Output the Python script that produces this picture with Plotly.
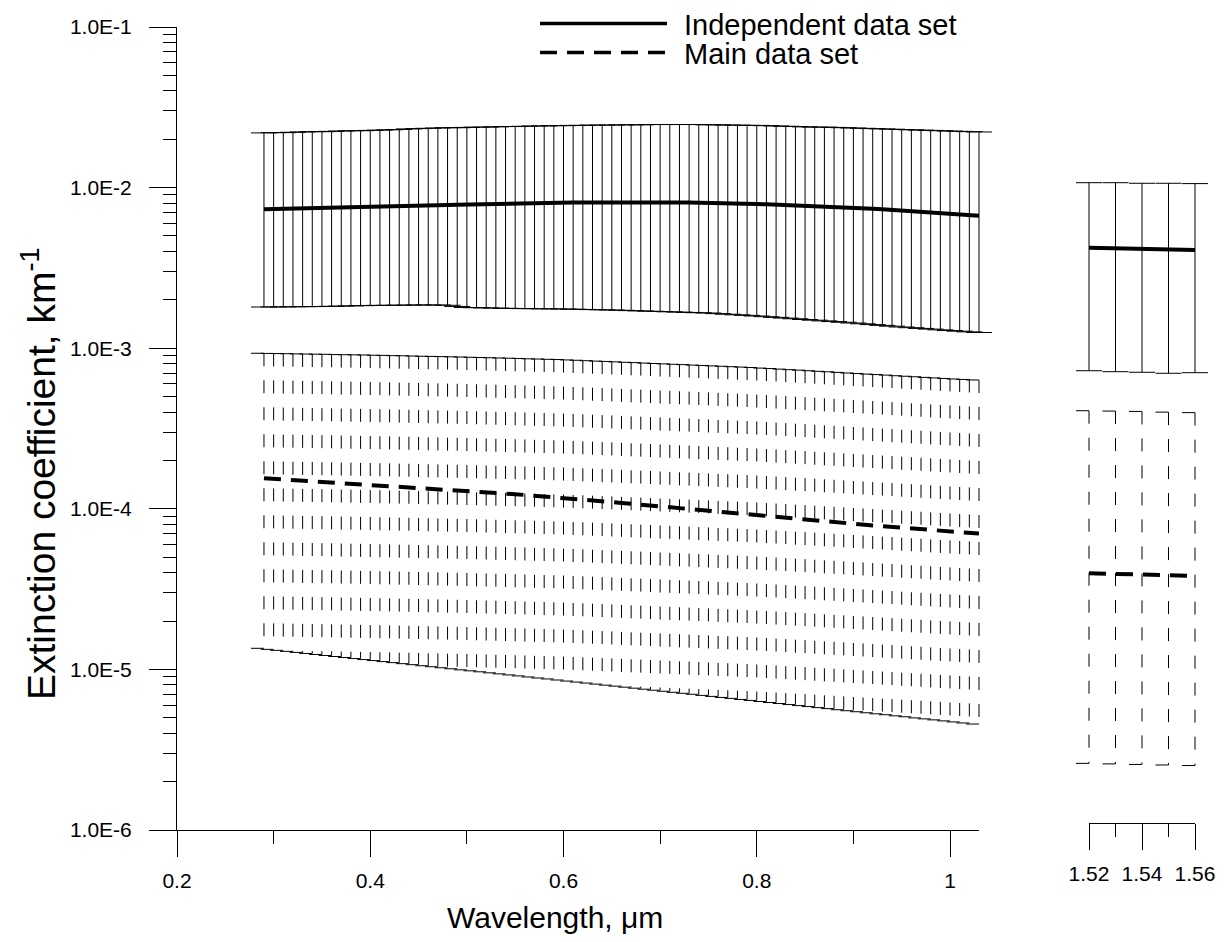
import plotly.graph_objects as go

# wavelength grid of the main panel (um)
WAVELENGTH = [0.29, 0.30, 0.31, 0.32, 0.33, 0.34, 0.35, 0.36, 0.37, 0.38,
              0.39, 0.40, 0.41, 0.42, 0.43, 0.44, 0.45, 0.46, 0.47, 0.48,
              0.49, 0.50, 0.51, 0.52, 0.53, 0.54, 0.55, 0.56, 0.57, 0.58,
              0.59, 0.60, 0.61, 0.62, 0.63, 0.64, 0.65, 0.66, 0.67, 0.68,
              0.69, 0.70, 0.71, 0.72, 0.73, 0.74, 0.75, 0.76, 0.77, 0.78,
              0.79, 0.80, 0.81, 0.82, 0.83, 0.84, 0.85, 0.86, 0.87, 0.88,
              0.89, 0.90, 0.91, 0.92, 0.93, 0.94, 0.95, 0.96, 0.97, 0.98,
              0.99, 1.00, 1.01, 1.02, 1.03]

# independent data set, x1e-3 km-1
IND_MID = [7.33, 7.35, 7.37, 7.39, 7.41, 7.43, 7.45, 7.46, 7.48, 7.49,
           7.51, 7.52, 7.55, 7.58, 7.62, 7.65, 7.68, 7.71, 7.75, 7.78,
           7.82, 7.85, 7.88, 7.90, 7.93, 7.95, 7.98, 8.00, 8.02, 8.04,
           8.05, 8.07, 8.08, 8.08, 8.09, 8.09, 8.10, 8.10, 8.10, 8.10,
           8.10, 8.10, 8.09, 8.08, 8.07, 8.06, 8.04, 8.02, 7.99, 7.96,
           7.93, 7.90, 7.87, 7.83, 7.80, 7.77, 7.73, 7.68, 7.63, 7.59,
           7.54, 7.49, 7.43, 7.38, 7.32, 7.26, 7.20, 7.13, 7.07, 7.00,
           6.94, 6.87, 6.81, 6.74, 6.68]
IND_HIGH = [21.9, 22.0, 22.0, 22.1, 22.2, 22.3, 22.3, 22.4, 22.5, 22.6,
            22.6, 22.7, 22.8, 22.9, 23.0, 23.2, 23.3, 23.4, 23.5, 23.6,
            23.6, 23.7, 23.8, 23.8, 23.9, 24.0, 24.0, 24.1, 24.2, 24.2,
            24.3, 24.3, 24.4, 24.4, 24.5, 24.5, 24.5, 24.6, 24.6, 24.6,
            24.7, 24.7, 24.7, 24.7, 24.7, 24.7, 24.6, 24.6, 24.5, 24.5,
            24.4, 24.4, 24.3, 24.2, 24.1, 24.0, 23.9, 23.8, 23.8, 23.7,
            23.6, 23.5, 23.4, 23.3, 23.2, 23.1, 23.0, 22.9, 22.8, 22.7,
            22.6, 22.5, 22.4, 22.3, 22.2]
IND_LOW = [1.805, 1.807, 1.809, 1.811, 1.813, 1.816, 1.818, 1.823, 1.829, 1.834,
           1.840, 1.845, 1.848, 1.850, 1.853, 1.855, 1.858, 1.858, 1.858, 1.850,
           1.820, 1.792, 1.787, 1.782, 1.777, 1.772, 1.767, 1.764, 1.762, 1.759,
           1.757, 1.754, 1.749, 1.744, 1.739, 1.734, 1.729, 1.722, 1.714, 1.707,
           1.699, 1.692, 1.685, 1.678, 1.670, 1.663, 1.656, 1.642, 1.628, 1.614,
           1.601, 1.587, 1.571, 1.556, 1.540, 1.525, 1.509, 1.494, 1.479, 1.465,
           1.450, 1.435, 1.419, 1.403, 1.387, 1.371, 1.355, 1.342, 1.328, 1.315,
           1.301, 1.288, 1.276, 1.264, 1.252]

# main data set, x1e-4 km-1 (low: x1e-5)
MAIN_MID = [1.549, 1.536, 1.523, 1.510, 1.497, 1.484, 1.471, 1.460, 1.449, 1.438,
            1.427, 1.416, 1.403, 1.391, 1.379, 1.367, 1.355, 1.343, 1.330, 1.318,
            1.306, 1.294, 1.281, 1.269, 1.256, 1.244, 1.232, 1.219, 1.207, 1.195,
            1.182, 1.170, 1.156, 1.142, 1.129, 1.115, 1.101, 1.088, 1.074, 1.060,
            1.047, 1.033, 1.021, 1.009, 0.997, 0.985, 0.973, 0.960, 0.948, 0.935,
            0.920, 0.908, 0.898, 0.887, 0.877, 0.866, 0.856, 0.846, 0.835, 0.825,
            0.814, 0.804, 0.796, 0.787, 0.779, 0.771, 0.763, 0.755, 0.746, 0.738,
            0.730, 0.722, 0.715, 0.708, 0.701]
MAIN_HIGH = [9.30, 9.28, 9.26, 9.24, 9.22, 9.20, 9.18, 9.16, 9.13, 9.11,
             9.09, 9.07, 9.04, 9.02, 8.99, 8.97, 8.94, 8.91, 8.89, 8.86,
             8.84, 8.81, 8.78, 8.75, 8.72, 8.69, 8.66, 8.63, 8.59, 8.56,
             8.53, 8.50, 8.45, 8.41, 8.36, 8.31, 8.27, 8.22, 8.17, 8.13,
             8.08, 8.03, 7.99, 7.94, 7.90, 7.85, 7.81, 7.76, 7.72, 7.67,
             7.63, 7.58, 7.52, 7.47, 7.41, 7.35, 7.30, 7.24, 7.18, 7.13,
             7.07, 7.01, 6.96, 6.90, 6.85, 6.80, 6.74, 6.69, 6.64, 6.58,
             6.53, 6.48, 6.43, 6.39, 6.34]
MAIN_LOW = [1.353, 1.333, 1.314, 1.295, 1.276, 1.257, 1.239, 1.221, 1.203, 1.186,
            1.168, 1.151, 1.135, 1.118, 1.102, 1.086, 1.070, 1.054, 1.039, 1.024,
            1.009, 0.994, 0.980, 0.966, 0.952, 0.938, 0.924, 0.911, 0.897, 0.884,
            0.872, 0.859, 0.846, 0.834, 0.822, 0.810, 0.798, 0.787, 0.775, 0.764,
            0.753, 0.742, 0.731, 0.720, 0.710, 0.700, 0.689, 0.679, 0.669, 0.660,
            0.650, 0.641, 0.631, 0.622, 0.613, 0.604, 0.595, 0.587, 0.578, 0.570,
            0.561, 0.553, 0.545, 0.537, 0.529, 0.522, 0.514, 0.507, 0.499, 0.492,
            0.485, 0.478, 0.471, 0.464, 0.457]

# 1.55 um window (right panel)
WL_IR = [1.52, 1.53, 1.54, 1.55, 1.56]
IR_IND_MID = [4.22, 4.19, 4.16, 4.13, 4.09]      # x1e-3
IR_IND_HIGH = [10.73, 10.73, 10.64, 10.64, 10.59]  # x1e-3
IR_IND_LOW = [7.24, 7.14, 7.08, 6.98, 7.04]      # x1e-4
IR_MAIN_MID = [3.97, 3.93, 3.89, 3.86, 3.82]     # x1e-5
IR_MAIN_HIGH = [4.08, 4.06, 4.04, 4.00, 3.97]    # x1e-4
IR_MAIN_LOW = [2.60, 2.58, 2.56, 2.54, 2.52]     # x1e-6

X_TICKS = [0.2, 0.4, 0.6, 0.8, 1.0]
X_TICKTEXT = ["0.2", "0.4", "0.6", "0.8", "1"]
X_MINOR = [0.3, 0.5, 0.7, 0.9]
IR_TICKS = [1.52, 1.54, 1.56]
IR_TICKTEXT = ["1.52", "1.54", "1.56"]
IR_MINOR = [1.53, 1.55]
Y_TICKS = [1e-6, 1e-5, 1e-4, 1e-3, 1e-2, 1e-1]
Y_TICKTEXT = ["1.0E-6", "1.0E-5", "1.0E-4", "1.0E-3", "1.0E-2", "1.0E-1"]
Y_MINOR = [k * 10.0 ** e for e in range(-6, -1) for k in range(2, 10)]

FONT = "Liberation Sans, Arial, sans-serif"
BLACK = "#000000"

# page geometry (px)
W, H = 1225, 942
L, R, T, B = 177, 10, 27, 112
PW, PH = W - L - R, H - T - B
MAIN_PX = 802          # width of the main x axis
IR_LEFT, IR_PX = 912, 106   # right panel start (from plot left) and width
PAD = 20               # extra room so caps are not clipped
CAP = 13               # half-width of error bar caps


def px_x(p):
    return (p - L) / PW


def px_y(p):
    return (T + PH - p) / PH


main_k = MAIN_PX / (1.03 - 0.2)
ir_k = IR_PX / (1.56 - 1.52)

ind_mid = [v * 1e-3 for v in IND_MID]
ind_high = [v * 1e-3 for v in IND_HIGH]
ind_low = [v * 1e-3 for v in IND_LOW]
main_mid = [v * 1e-4 for v in MAIN_MID]
main_high = [v * 1e-4 for v in MAIN_HIGH]
main_low = [v * 1e-5 for v in MAIN_LOW]
ir_ind_mid = [v * 1e-3 for v in IR_IND_MID]
ir_ind_high = [v * 1e-3 for v in IR_IND_HIGH]
ir_ind_low = [v * 1e-4 for v in IR_IND_LOW]
ir_main_mid = [v * 1e-5 for v in IR_MAIN_MID]
ir_main_high = [v * 1e-4 for v in IR_MAIN_HIGH]
ir_main_low = [v * 1e-6 for v in IR_MAIN_LOW]


def solid_set(xs, mid, hi, lo, xaxis, bar_axis):
    # error bars live on a slightly wider hidden axis so the caps are not clipped
    bars = go.Scatter(
        x=xs, y=mid, mode="lines", xaxis=bar_axis, yaxis="y",
        line=dict(color=BLACK, width=0),
        error_y=dict(type="data", symmetric=False,
                     array=[h - m for h, m in zip(hi, mid)],
                     arrayminus=[m - l for m, l in zip(mid, lo)],
                     width=CAP, thickness=1, color=BLACK),
        showlegend=False, hoverinfo="skip")
    line = go.Scatter(x=xs, y=mid, mode="lines", xaxis=xaxis, yaxis="y",
                      line=dict(color=BLACK, width=4),
                      showlegend=False, hoverinfo="skip")
    return [bars, line]


def dashed_set(xs, mid, hi, lo, xaxis, bar_axis, k):
    bx, by, cx, cy = [], [], [], []
    dx = CAP / k
    for x, h, l in zip(xs, hi, lo):
        bx += [x, x, None]
        by += [h, l, None]
        cx += [x - dx, x, None, x - dx, x, None]
        cy += [h, h, None, l, l, None]
    bars = go.Scatter(x=bx, y=by, mode="lines", xaxis=bar_axis, yaxis="y",
                      line=dict(color=BLACK, width=1, dash="13px,14px"),
                      showlegend=False, hoverinfo="skip")
    caps = go.Scatter(x=cx, y=cy, mode="lines", xaxis=bar_axis, yaxis="y",
                      line=dict(color=BLACK, width=1),
                      showlegend=False, hoverinfo="skip")
    line = go.Scatter(x=xs, y=mid, mode="lines", xaxis=xaxis, yaxis="y",
                      line=dict(color=BLACK, width=4, dash="17px,10px"),
                      showlegend=False, hoverinfo="skip")
    return [bars, caps, line]


fig = go.Figure()
fig.add_traces(dashed_set(WAVELENGTH, main_mid, main_high, main_low, "x", "x3", main_k))
fig.add_traces(solid_set(WAVELENGTH, ind_mid, ind_high, ind_low, "x", "x3"))
fig.add_traces(dashed_set(WL_IR, ir_main_mid, ir_main_high, ir_main_low, "x2", "x4", ir_k))
fig.add_traces(solid_set(WL_IR, ir_ind_mid, ir_ind_high, ir_ind_low, "x2", "x4"))

tick_font = dict(family=FONT, size=21, color=BLACK)
axis_common = dict(showgrid=False, zeroline=False, showline=True, linecolor=BLACK,
                   linewidth=1, ticks="outside", tickcolor=BLACK, tickwidth=1,
                   tickfont=tick_font, automargin=False)
minor_common = dict(tickmode="array", ticks="outside", ticklen=13, tickcolor=BLACK,
                    tickwidth=1, showgrid=False)

fig.update_layout(
    width=W, height=H, autosize=False,
    margin=dict(l=L, r=R, t=T, b=B, pad=0, autoexpand=False),
    paper_bgcolor="white", plot_bgcolor="rgba(0,0,0,0)",
    font=dict(family=FONT, color=BLACK),
    showlegend=False,
    xaxis=dict(axis_common, domain=[0, MAIN_PX / PW], range=[0.2, 1.03],
               anchor="y", tickmode="array", tickvals=X_TICKS, ticktext=X_TICKTEXT,
               ticklen=26, ticklabelstandoff=6,
               minor=dict(minor_common, tickvals=X_MINOR)),
    xaxis2=dict(axis_common, domain=[IR_LEFT / PW, (IR_LEFT + IR_PX) / PW],
                range=[1.52, 1.56], anchor="free", position=7 / PH,
                tickmode="array", tickvals=IR_TICKS, ticktext=IR_TICKTEXT,
                ticklen=26, ticklabelstandoff=6,
                minor=dict(minor_common, tickvals=IR_MINOR)),
    xaxis3=dict(visible=False, domain=[0, (MAIN_PX + PAD) / PW],
                range=[0.2, 1.03 + PAD / main_k], anchor="y", automargin=False),
    xaxis4=dict(visible=False, domain=[(IR_LEFT - PAD) / PW, 1.0],
                range=[1.52 - PAD / ir_k, 1.56 + (PW - IR_LEFT - IR_PX) / ir_k],
                anchor="y", automargin=False),
    yaxis=dict(axis_common, type="log", range=[-6, -1], anchor="x",
               tickmode="array", tickvals=Y_TICKS, ticktext=Y_TICKTEXT,
               ticklen=27, ticklabelstandoff=13,
               minor=dict(minor_common, tickvals=Y_MINOR)),
)

# axis titles
fig.add_annotation(x=px_x(38), y=px_y(474), xref="paper", yref="paper",
                   xanchor="center", yanchor="middle",
                   text="Extinction coefficient, km<sup>-1</sup>", textangle=-90,
                   showarrow=False, font=dict(family=FONT, size=39, color=BLACK))
fig.add_annotation(x=px_x(555), y=px_y(917), xref="paper", yref="paper",
                   xanchor="center", yanchor="middle",
                   text="Wavelength, \u03bcm", showarrow=False,
                   font=dict(family=FONT, size=30, color=BLACK))

# legend drawn by hand so that the sample lines are as long as the original
legend_rows = [("Independent data set", "solid", 23.5), ("Main data set", "17px,10px", 52.5)]
for label, dash, ypx in legend_rows:
    fig.add_shape(type="line", xref="paper", yref="paper",
                  x0=px_x(540), x1=px_x(667), y0=px_y(ypx), y1=px_y(ypx),
                  line=dict(color=BLACK, width=3.5, dash=dash))
    fig.add_annotation(x=px_x(682), y=px_y(ypx + 1.5), xref="paper", yref="paper",
                       text=label, showarrow=False, xanchor="left", yanchor="middle",
                       font=dict(family=FONT, size=29, color=BLACK))

# the page body has a default 8px margin; drop it so the figure fills the window
fig.write_html("out.html", config={"displayModeBar": False},
               post_script="document.body.style.margin = '0px';")
